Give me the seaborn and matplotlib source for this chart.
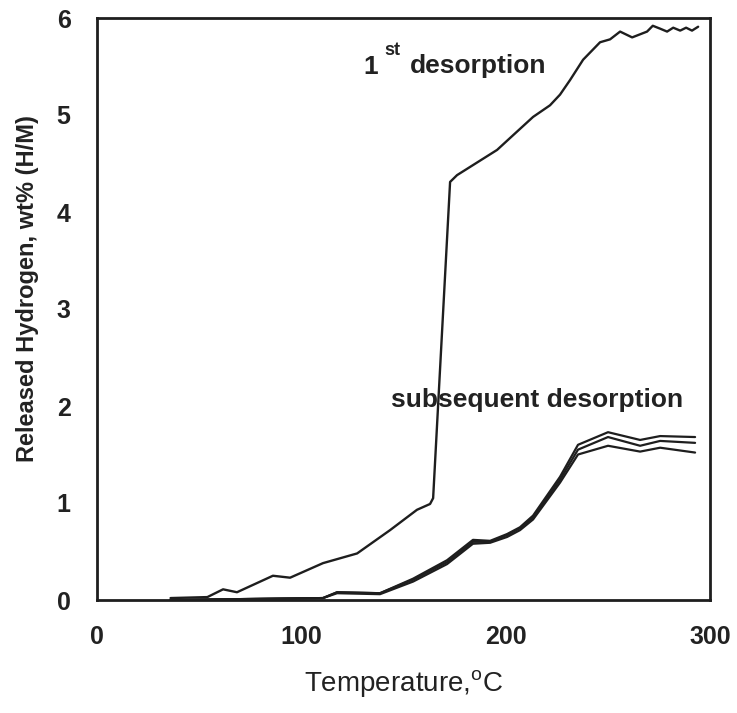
import matplotlib
matplotlib.use("Agg")
import matplotlib.pyplot as plt
import seaborn as sns
import numpy as np
import pandas as pd

# ---- data ----
first_T = [36, 54, 61.7, 68.5, 86.1, 94.5, 110.6, 127.3, 143.4, 156.6, 163, 164.5, 172.8, 176.2,
           195.8, 202, 213.4, 221.7, 226.6, 231.5, 237.9, 246.2, 251.1, 256, 261.9, 269.2, 272,
           275.6, 279, 282, 285.4, 288.3, 291.2, 294.2]
first_H = [0.02, 0.03, 0.11, 0.08, 0.25, 0.23, 0.38, 0.48, 0.72, 0.93, 0.99, 1.05, 4.31, 4.38,
           4.64, 4.76, 4.98, 5.10, 5.21, 5.36, 5.57, 5.75, 5.78, 5.86, 5.80, 5.86, 5.92,
           5.89, 5.86, 5.90, 5.87, 5.90, 5.87, 5.91]

sub_T = [36, 110.6, 117.5, 138.5, 154.7, 171.3, 184, 192.4, 200.7, 207, 213.4, 226.6, 235.4,
         250.1, 265.8, 275.6, 292.7]
sub1_H = [0.0, 0.02, 0.08, 0.07, 0.22, 0.41, 0.62, 0.61, 0.68, 0.75, 0.87, 1.27, 1.60, 1.73, 1.65, 1.69, 1.68]
sub2_H = [0.0, 0.02, 0.08, 0.07, 0.21, 0.39, 0.60, 0.60, 0.67, 0.74, 0.85, 1.24, 1.55, 1.68, 1.59, 1.64, 1.62]
sub3_H = [0.0, 0.02, 0.07, 0.06, 0.19, 0.37, 0.58, 0.59, 0.65, 0.72, 0.83, 1.21, 1.50, 1.59, 1.53, 1.57, 1.52]

x_ticks = [0, 100, 200, 300]
y_ticks = [0, 1, 2, 3, 4, 5, 6]

sns.set_theme(style="white")
plt.rcParams['font.family'] = ['Liberation Sans', 'DejaVu Sans']

fig = plt.figure(figsize=(7.37, 7.13), dpi=100)
ax = fig.add_axes([97/737, 1-600/713, (710-97)/737, (600-18)/713])

col = '#1e1e1e'
sns.lineplot(x=first_T, y=first_H, ax=ax, color=col, lw=1.7, estimator=None, sort=False)
for h in (sub1_H, sub2_H, sub3_H):
    sns.lineplot(x=sub_T, y=h, ax=ax, color=col, lw=1.6, estimator=None, sort=False)

ax.set_xlim(0, 300)
ax.set_ylim(0, 6)
ax.set_xticks(x_ticks)
ax.set_yticks(y_ticks)
ax.set_xticklabels([str(v) for v in x_ticks], fontsize=18, fontweight='bold', color='#222222')
ax.set_yticklabels([str(v) for v in y_ticks], fontsize=18, fontweight='bold', color='#222222')
ax.tick_params(axis='both', length=0)
ax.tick_params(axis='x', pad=18)
ax.tick_params(axis='y', pad=19)

for s in ax.spines.values():
    s.set_color(col)
    s.set_linewidth(2)
    s.set_visible(True)

ax.set_xlabel('Temperature,$\\mathregular{^o}$C', fontsize=20, color='#222222', labelpad=14)
ax.set_ylabel('Released Hydrogen, wt% (H/M)', fontsize=17, fontweight='bold', color='#222222')
ax.yaxis.set_label_coords(-0.094, 0.535)

ax.text(130.2, 5.5, '1', fontsize=19, fontweight='bold', color='#222222', va='center', ha='left')
ax.text(140.5, 5.66, 'st', fontsize=13, fontweight='bold', color='#222222', va='center', ha='left')
ax.text(153, 5.5, 'desorption', fontsize=19, fontweight='bold', color='#222222', va='center', ha='left')
ax.text(144, 2.06, 'subsequent desorption', fontsize=19, fontweight='bold', color='#222222', va='center', ha='left')

fig.savefig('out.png', dpi=100, facecolor='white')
